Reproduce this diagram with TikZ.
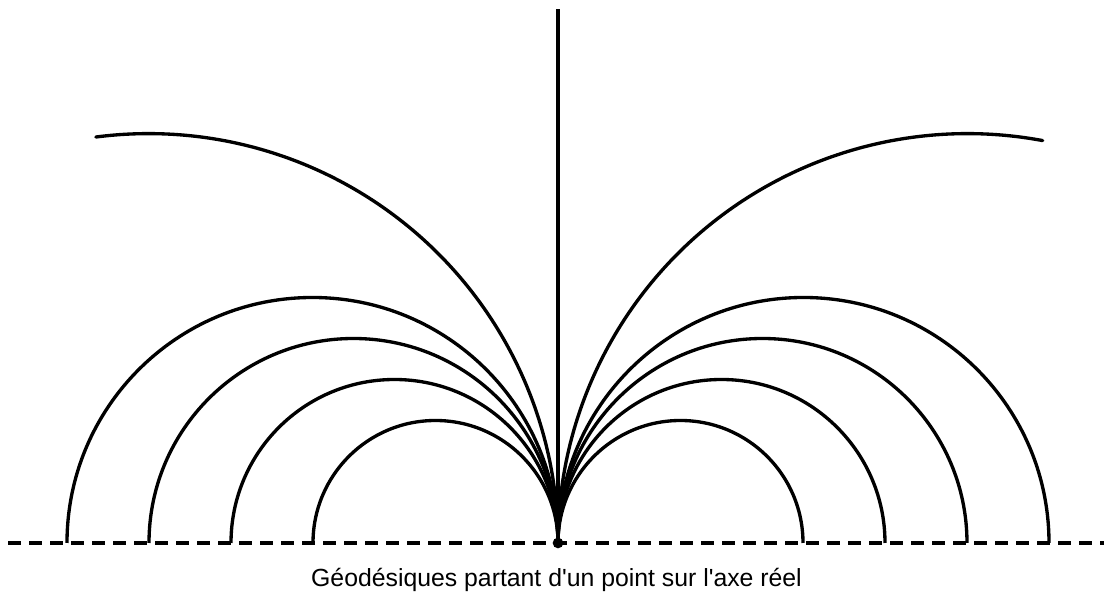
\documentclass[tikz,border=0pt]{standalone}
\usepackage{fontspec}
\setmainfont{Liberation Sans}
\usetikzlibrary{positioning}

\begin{document}
\begin{tikzpicture}[x=.75pt,y=.75pt,line width=2.5pt]
\useasboundingbox (0,-55) rectangle (1104,543);
\coordinate (axL) at (0,0);
\coordinate (axR) at (1104,0);
\coordinate (haut) at (558,534);
\node[circle,fill,inner sep=0pt,minimum size=8pt] (O) at (558,0) {};
\draw[dash pattern=on 9.75pt off 6pt,dash phase=9.75pt] (axL)--(axR);
\draw (O.center)--(haut);
\foreach \r in {122.5,163.5,204.5,245.5}{
  \draw (O.center) arc (0:180:\r);
  \draw (O.center) arc (180:0:\r);
}
\draw[line cap=round] (O.center) arc (0:97.4:409.4);
\draw[line cap=round] (O.center) arc (180:79.4:409.4);
\node[anchor=base,font=\fontsize{18.6}{22}\selectfont] (legende) at (556.5,-44){Géodésiques partant d\textquotesingle un point sur l\textquotesingle axe réel};
\end{tikzpicture}
\end{document}
